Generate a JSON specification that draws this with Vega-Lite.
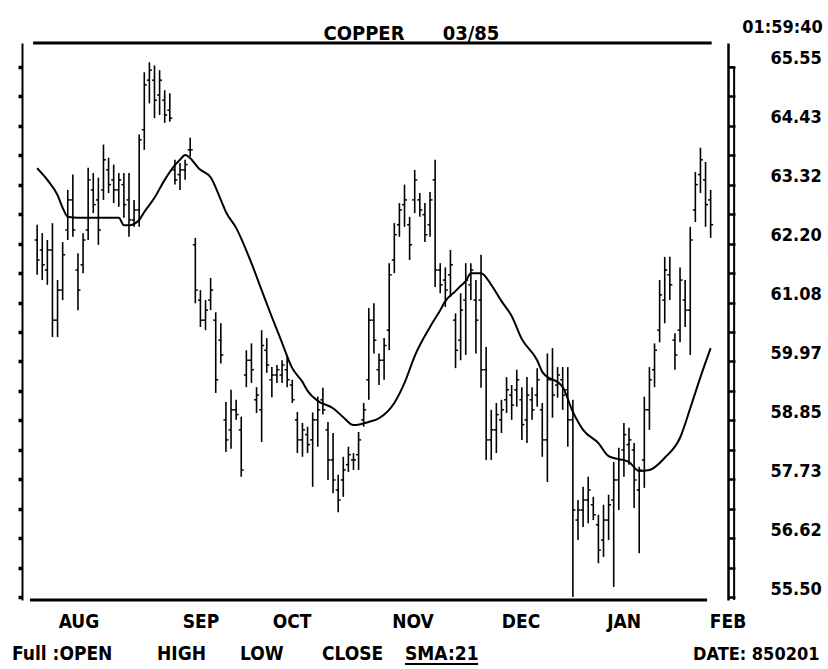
{
"$schema":"https://vega.github.io/schema/vega-lite/v6.json",
"width":698,"height":557,
"autosize":{"type":"none"},
"padding":{"left":30,"top":43,"right":100,"bottom":69},
"background":"white",
"config":{"view":{"stroke":null},"font":"DejaVu Sans Condensed, DejaVu Sans","axis":{"grid":false,"domainColor":"#000","tickColor":"#000","labelColor":"#000","title":null}},
"resolve":{"axis":{"y":"independent"}},
"datasets":{
"one":[{}],
"bars":[
{"d":1,"o":62.27,"h":62.56,"l":61.61,"c":61.89},
{"d":2,"o":62.08,"h":62.40,"l":61.51,"c":61.80},
{"d":3,"o":61.70,"h":62.27,"l":61.42,"c":62.08},
{"d":4,"o":62.08,"h":62.59,"l":60.43,"c":60.75},
{"d":5,"o":60.75,"h":61.51,"l":60.43,"c":61.32},
{"d":6,"o":61.32,"h":62.23,"l":61.13,"c":61.99},
{"d":7,"o":62.46,"h":63.22,"l":62.27,"c":63.03},
{"d":8,"o":63.03,"h":63.51,"l":62.33,"c":62.46},
{"d":9,"o":61.70,"h":62.02,"l":60.94,"c":61.32},
{"d":10,"o":61.80,"h":62.40,"l":61.64,"c":62.27},
{"d":11,"o":62.46,"h":63.64,"l":62.27,"c":63.41},
{"d":12,"o":63.22,"h":63.54,"l":62.78,"c":62.94},
{"d":13,"o":63.03,"h":63.45,"l":62.18,"c":62.46},
{"d":14,"o":63.22,"h":64.08,"l":63.03,"c":63.79},
{"d":15,"o":63.60,"h":63.83,"l":63.16,"c":63.32},
{"d":16,"o":63.41,"h":63.70,"l":62.97,"c":63.22},
{"d":17,"o":63.22,"h":63.54,"l":62.90,"c":63.41},
{"d":18,"o":63.32,"h":63.54,"l":62.69,"c":62.94},
{"d":19,"o":63.03,"h":63.54,"l":62.33,"c":62.65},
{"d":20,"o":62.65,"h":63.03,"l":62.52,"c":62.84},
{"d":21,"o":62.84,"h":64.27,"l":62.52,"c":64.17},
{"d":22,"o":64.36,"h":65.45,"l":63.98,"c":65.21},
{"d":23,"o":65.30,"h":65.64,"l":64.86,"c":65.49},
{"d":24,"o":65.30,"h":65.58,"l":64.58,"c":64.92},
{"d":25,"o":65.02,"h":65.49,"l":64.64,"c":65.30},
{"d":26,"o":64.92,"h":65.11,"l":64.49,"c":64.64},
{"d":27,"o":64.73,"h":65.05,"l":64.51,"c":64.58},
{"d":28,"o":63.60,"h":63.79,"l":63.32,"c":63.41},
{"d":29,"o":63.51,"h":63.73,"l":63.22,"c":63.60},
{"d":30,"o":63.60,"h":63.79,"l":63.41,"c":63.70},
{"d":31,"o":63.98,"h":64.21,"l":63.85,"c":63.98},
{"d":32,"o":62.18,"h":62.31,"l":61.07,"c":61.32},
{"d":33,"o":61.13,"h":61.32,"l":60.62,"c":60.75},
{"d":34,"o":60.75,"h":61.13,"l":60.56,"c":60.94},
{"d":35,"o":61.13,"h":61.55,"l":60.94,"c":61.32},
{"d":36,"o":60.75,"h":60.90,"l":59.37,"c":59.62},
{"d":37,"o":60.37,"h":60.69,"l":59.93,"c":60.09},
{"d":38,"o":58.86,"h":59.20,"l":58.25,"c":58.48},
{"d":39,"o":58.67,"h":59.43,"l":58.31,"c":59.05},
{"d":40,"o":59.05,"h":59.24,"l":58.86,"c":58.96},
{"d":41,"o":58.67,"h":58.92,"l":57.78,"c":57.91},
{"d":42,"o":59.71,"h":60.18,"l":59.48,"c":59.99},
{"d":43,"o":59.99,"h":60.31,"l":59.56,"c":59.81},
{"d":44,"o":59.24,"h":59.48,"l":58.99,"c":59.33},
{"d":45,"o":59.05,"h":60.56,"l":58.44,"c":60.27},
{"d":46,"o":60.18,"h":60.41,"l":59.75,"c":59.90},
{"d":47,"o":59.62,"h":59.86,"l":59.29,"c":59.71},
{"d":48,"o":59.71,"h":59.90,"l":59.56,"c":59.81},
{"d":49,"o":59.71,"h":59.99,"l":59.56,"c":59.90},
{"d":50,"o":59.81,"h":60.05,"l":59.48,"c":59.62},
{"d":51,"o":59.52,"h":59.62,"l":59.18,"c":59.24},
{"d":52,"o":58.86,"h":59.01,"l":58.23,"c":58.48},
{"d":53,"o":58.48,"h":58.80,"l":58.16,"c":58.67},
{"d":54,"o":58.58,"h":58.73,"l":58.23,"c":58.39},
{"d":55,"o":58.48,"h":59.00,"l":57.59,"c":58.86},
{"d":56,"o":58.86,"h":59.30,"l":58.35,"c":59.05},
{"d":57,"o":59.24,"h":59.47,"l":58.96,"c":59.05},
{"d":58,"o":58.67,"h":58.82,"l":57.72,"c":58.10},
{"d":59,"o":58.10,"h":58.61,"l":57.47,"c":57.72},
{"d":60,"o":57.53,"h":57.82,"l":57.11,"c":57.34},
{"d":61,"o":57.72,"h":58.16,"l":57.40,"c":57.91},
{"d":62,"o":58.01,"h":58.35,"l":57.87,"c":58.20},
{"d":63,"o":58.10,"h":58.23,"l":57.91,"c":58.10},
{"d":64,"o":58.20,"h":58.63,"l":57.91,"c":58.48},
{"d":65,"o":58.86,"h":59.18,"l":58.73,"c":59.05},
{"d":66,"o":59.62,"h":60.98,"l":59.24,"c":60.75},
{"d":67,"o":60.75,"h":61.07,"l":60.12,"c":60.37},
{"d":68,"o":59.81,"h":60.12,"l":59.52,"c":59.99},
{"d":69,"o":59.99,"h":60.41,"l":59.62,"c":60.27},
{"d":70,"o":60.56,"h":61.83,"l":60.18,"c":61.61},
{"d":71,"o":61.89,"h":62.59,"l":61.64,"c":62.37},
{"d":72,"o":62.56,"h":62.97,"l":62.33,"c":62.84},
{"d":73,"o":62.94,"h":63.32,"l":62.52,"c":63.03},
{"d":74,"o":62.56,"h":62.71,"l":61.89,"c":62.18},
{"d":75,"o":63.03,"h":63.60,"l":62.78,"c":63.41},
{"d":76,"o":63.03,"h":63.16,"l":62.71,"c":62.84},
{"d":77,"o":62.75,"h":62.97,"l":62.23,"c":62.37},
{"d":78,"o":62.56,"h":63.18,"l":62.33,"c":63.03},
{"d":79,"o":63.41,"h":63.79,"l":61.38,"c":61.70},
{"d":80,"o":61.70,"h":61.83,"l":61.26,"c":61.42},
{"d":81,"o":61.51,"h":61.75,"l":61.00,"c":61.32},
{"d":82,"o":61.61,"h":62.08,"l":61.19,"c":61.80},
{"d":83,"o":60.75,"h":60.88,"l":59.84,"c":60.18},
{"d":84,"o":60.37,"h":61.26,"l":59.99,"c":60.94},
{"d":85,"o":61.13,"h":61.83,"l":60.09,"c":61.51},
{"d":86,"o":61.42,"h":61.83,"l":61.13,"c":61.70},
{"d":87,"o":61.13,"h":61.51,"l":60.12,"c":60.75},
{"d":88,"o":61.13,"h":61.99,"l":59.47,"c":59.81},
{"d":89,"o":59.81,"h":60.24,"l":58.10,"c":58.48},
{"d":90,"o":58.48,"h":59.05,"l":58.10,"c":58.67},
{"d":91,"o":58.67,"h":59.18,"l":58.23,"c":58.96},
{"d":92,"o":58.86,"h":59.24,"l":58.61,"c":59.05},
{"d":93,"o":59.24,"h":59.67,"l":58.99,"c":59.43},
{"d":94,"o":59.33,"h":59.52,"l":58.86,"c":59.14},
{"d":95,"o":59.43,"h":59.81,"l":59.11,"c":59.62},
{"d":96,"o":59.24,"h":59.48,"l":58.48,"c":58.77},
{"d":97,"o":58.86,"h":59.67,"l":58.42,"c":59.33},
{"d":98,"o":59.24,"h":59.48,"l":58.86,"c":59.05},
{"d":99,"o":59.33,"h":59.84,"l":59.11,"c":59.62},
{"d":100,"o":59.05,"h":59.18,"l":58.16,"c":58.48},
{"d":101,"o":58.48,"h":60.12,"l":57.68,"c":59.62},
{"d":102,"o":59.62,"h":60.22,"l":58.90,"c":59.33},
{"d":103,"o":59.52,"h":59.86,"l":59.28,"c":59.71},
{"d":104,"o":59.62,"h":59.86,"l":59.05,"c":59.33},
{"d":105,"o":59.43,"h":59.86,"l":58.35,"c":58.86},
{"d":106,"o":58.86,"h":59.24,"l":55.50,"c":57.15},
{"d":107,"o":56.96,"h":57.34,"l":56.58,"c":57.15},
{"d":108,"o":57.15,"h":57.59,"l":56.83,"c":57.34},
{"d":109,"o":57.34,"h":57.78,"l":56.90,"c":57.53},
{"d":110,"o":57.25,"h":57.40,"l":56.96,"c":57.06},
{"d":111,"o":56.87,"h":57.06,"l":56.14,"c":56.39},
{"d":112,"o":56.58,"h":57.25,"l":56.26,"c":56.96},
{"d":113,"o":56.96,"h":57.44,"l":56.58,"c":57.25},
{"d":114,"o":57.34,"h":58.06,"l":55.69,"c":57.72},
{"d":115,"o":57.72,"h":58.33,"l":57.15,"c":58.10},
{"d":116,"o":58.29,"h":58.80,"l":57.78,"c":58.58},
{"d":117,"o":58.39,"h":58.71,"l":58.01,"c":58.48},
{"d":118,"o":58.29,"h":58.42,"l":57.19,"c":57.72},
{"d":119,"o":57.53,"h":57.97,"l":56.33,"c":57.91},
{"d":120,"o":58.10,"h":59.30,"l":57.57,"c":59.05},
{"d":121,"o":59.05,"h":59.86,"l":58.67,"c":59.62},
{"d":122,"o":59.81,"h":60.31,"l":59.48,"c":60.18},
{"d":123,"o":60.56,"h":61.51,"l":60.33,"c":61.23},
{"d":124,"o":61.13,"h":61.95,"l":60.69,"c":61.70},
{"d":125,"o":61.61,"h":61.95,"l":61.13,"c":61.42},
{"d":126,"o":60.37,"h":60.50,"l":59.81,"c":60.09},
{"d":127,"o":60.56,"h":61.75,"l":60.33,"c":61.51},
{"d":128,"o":61.13,"h":61.51,"l":60.62,"c":60.94},
{"d":129,"o":60.94,"h":62.52,"l":60.09,"c":62.27},
{"d":130,"o":62.84,"h":63.56,"l":62.61,"c":63.32},
{"d":131,"o":63.51,"h":64.02,"l":63.16,"c":63.79},
{"d":132,"o":63.41,"h":63.75,"l":62.52,"c":62.94},
{"d":133,"o":63.03,"h":63.22,"l":62.31,"c":62.56}
],
"sma":[
{"d":1,"v":63.63},{"d":3,"v":63.41},{"d":5,"v":63.12},{"d":6,"v":62.88},{"d":7,"v":62.71},{"d":9,"v":62.69},{"d":13,"v":62.69},{"d":17,"v":62.69},{"d":18,"v":62.55},{"d":19,"v":62.55},{"d":21,"v":62.65},{"d":22,"v":62.80},{"d":24,"v":63.07},{"d":26,"v":63.41},{"d":28,"v":63.69},{"d":29,"v":63.79},{"d":30,"v":63.88},{"d":33,"v":63.60},{"d":35,"v":63.46},{"d":37,"v":63.03},{"d":38,"v":62.80},{"d":40,"v":62.50},{"d":43,"v":61.83},{"d":45,"v":61.32},{"d":47,"v":60.81},{"d":49,"v":60.32},{"d":51,"v":59.84},{"d":53,"v":59.58},{"d":54,"v":59.41},{"d":56,"v":59.22},{"d":59,"v":59.08},{"d":61,"v":58.91},{"d":63,"v":58.76},{"d":66,"v":58.82},{"d":68,"v":58.89},{"d":71,"v":59.18},{"d":73,"v":59.56},{"d":75,"v":60.07},{"d":78,"v":60.62},{"d":80,"v":60.94},{"d":81,"v":61.11},{"d":83,"v":61.30},{"d":84,"v":61.40},{"d":85,"v":61.49},{"d":86,"v":61.64},{"d":88,"v":61.64},{"d":90,"v":61.42},{"d":92,"v":61.11},{"d":94,"v":60.83},{"d":96,"v":60.39},{"d":99,"v":59.99},{"d":100,"v":59.77},{"d":104,"v":59.48},{"d":106,"v":59.01},{"d":108,"v":58.67},{"d":111,"v":58.42},{"d":113,"v":58.17},{"d":117,"v":58.06},{"d":119,"v":57.89},{"d":121,"v":57.91},{"d":124,"v":58.14},{"d":127,"v":58.52},{"d":129,"v":59.08},{"d":131,"v":59.67},{"d":133,"v":60.22}
],
"months":[
{"m":"AUG","d":9.2},{"m":"SEP","d":33.12},{"m":"OCT","d":50.95},{"m":"NOV","d":74.67},{"m":"DEC","d":95.84},{"m":"JAN","d":116.03},{"m":"FEB","d":136.41}
]
},
"layer":[
{"data":{"name":"bars"},"mark":{"type":"rule","color":"#000","strokeWidth":1.6},
 "encoding":{
  "x":{"field":"d","type":"quantitative","scale":{"domain":[-0.4,136.4],"nice":false,"zero":false},
       "axis":{"values":[4.5,27.43,48.6,69.77,90.94,110.14,132.29],"labels":false,"domain":false,"ticks":true,"tickSize":6,"tickWidth":2,"title":null}},
  "y":{"field":"l","type":"quantitative","scale":{"domain":[55.444,66.005],"nice":false,"zero":false},
       "axis":{"orient":"right","values":[55.5,56.0583,56.6167,57.175,57.7333,58.2917,58.85,59.4083,59.9667,60.525,61.0833,61.6417,62.2,62.7583,63.3167,63.875,64.4333,64.9917,65.55],
        "labelExpr":"indexof(['55.50','56.62','57.73','58.85','59.97','61.08','62.20','63.32','64.43','65.55'], format(datum.value,'.2f')) >= 0 ? format(datum.value,'.2f') : ''",
        "domainWidth":2.5,"tickSize":7,"tickWidth":2.5,"labelPadding":35,"labelOffset":-8,"labelFontSize":18,"labelFontWeight":"bold","labelAlign":"left","labelBaseline":"middle","labelBound":false,"title":null}},
  "y2":{"field":"h"}}},
{"data":{"name":"bars"},"mark":{"type":"rule","color":"#000","strokeWidth":1.5,"xOffset":-2.5},
 "encoding":{
  "x":{"field":"d","type":"quantitative","scale":{"domain":[-0.4,136.4],"nice":false,"zero":false},"axis":null},
  "x2":{"field":"d"},
  "y":{"field":"o","type":"quantitative","scale":{"domain":[55.444,66.005],"nice":false,"zero":false},"axis":null}}},
{"data":{"name":"bars"},"mark":{"type":"rule","color":"#000","strokeWidth":1.5,"x2Offset":2.5},
 "encoding":{
  "x":{"field":"d","type":"quantitative","scale":{"domain":[-0.4,136.4],"nice":false,"zero":false},"axis":null},
  "x2":{"field":"d"},
  "y":{"field":"c","type":"quantitative","scale":{"domain":[55.444,66.005],"nice":false,"zero":false},"axis":null}}},
{"data":{"name":"sma"},"mark":{"type":"line","color":"#000","strokeWidth":2,"interpolate":"monotone"},
 "encoding":{
  "x":{"field":"d","type":"quantitative","scale":{"domain":[-0.4,136.4],"nice":false,"zero":false},"axis":null},
  "y":{"field":"v","type":"quantitative","scale":{"domain":[55.444,66.005],"nice":false,"zero":false},
       "axis":{"orient":"left","offset":8,"values":[55.5,56.0583,56.6167,57.175,57.7333,58.2917,58.85,59.4083,59.9667,60.525,61.0833,61.6417,62.2,62.7583,63.3167,63.875,64.4333,64.9917,65.55],"labels":false,"domainWidth":2,"tickSize":4,"tickWidth":3.5,"title":null}}}},
{"data":{"name":"months"},"mark":{"type":"text","color":"#000","fontSize":19,"fontWeight":"bold","align":"center","baseline":"alphabetic"},
 "encoding":{
  "x":{"field":"d","type":"quantitative","scale":{"domain":[-0.4,136.4],"nice":false,"zero":false},"axis":null},
  "y":{"datum":54.913,"type":"quantitative","scale":{"domain":[55.444,66.005],"nice":false,"zero":false},"axis":null},
  "text":{"field":"m"}}},
{"data":{"name":"one"},"mark":{"type":"rule","color":"#000","strokeWidth":3},
 "encoding":{"x":{"datum":0.2,"type":"quantitative","scale":{"domain":[-0.4,136.4],"nice":false,"zero":false},"axis":null},"x2":{"datum":133.2},
  "y":{"datum":66.005,"type":"quantitative","scale":{"domain":[55.444,66.005],"nice":false,"zero":false},"axis":null}}},
{"data":{"name":"one"},"mark":{"type":"rule","color":"#000","strokeWidth":3},
 "encoding":{"x":{"datum":-0.4,"type":"quantitative","scale":{"domain":[-0.4,136.4],"nice":false,"zero":false},"axis":null},"x2":{"datum":132.3},
  "y":{"datum":55.444,"type":"quantitative","scale":{"domain":[55.444,66.005],"nice":false,"zero":false},"axis":null}}},
{"data":{"name":"one"},"mark":{"type":"rule","color":"#000","strokeWidth":2},
 "encoding":{"x":{"datum":137.6,"type":"quantitative","scale":{"domain":[-0.4,136.4],"nice":false,"zero":false},"axis":null},
  "y":{"datum":55.444,"type":"quantitative","scale":{"domain":[55.444,66.005],"nice":false,"zero":false},"axis":null},"y2":{"datum":65.55}}},
{"data":{"name":"one"},"mark":{"type":"rule","color":"#000","strokeWidth":2},
 "encoding":{"x":{"datum":136.4,"type":"quantitative","scale":{"domain":[-0.4,136.4],"nice":false,"zero":false},"axis":null},"x2":{"datum":137.6},
  "y":{"datum":65.55,"type":"quantitative","scale":{"domain":[55.444,66.005],"nice":false,"zero":false},"axis":null}}},
{"data":{"name":"one"},"mark":{"type":"rule","color":"#000","strokeWidth":2},
 "encoding":{"x":{"datum":73.1,"type":"quantitative","scale":{"domain":[-0.4,136.4],"nice":false,"zero":false},"axis":null},"x2":{"datum":87.41},
  "y":{"datum":54.23,"type":"quantitative","scale":{"domain":[55.444,66.005],"nice":false,"zero":false},"axis":null}}},
{"data":{"name":"one"},"mark":{"type":"text","color":"#000","fontSize":20,"fontWeight":"bold","align":"center","baseline":"alphabetic"},
 "encoding":{"x":{"datum":65.06,"type":"quantitative","scale":{"domain":[-0.4,136.4],"nice":false,"zero":false},"axis":null},
  "y":{"datum":66.062,"type":"quantitative","scale":{"domain":[55.444,66.005],"nice":false,"zero":false},"axis":null},"text":{"value":"COPPER"}}},
{"data":{"name":"one"},"mark":{"type":"text","color":"#000","fontSize":20,"fontWeight":"bold","align":"center","baseline":"alphabetic"},
 "encoding":{"x":{"datum":86.04,"type":"quantitative","scale":{"domain":[-0.4,136.4],"nice":false,"zero":false},"axis":null},
  "y":{"datum":66.062,"type":"quantitative","scale":{"domain":[55.444,66.005],"nice":false,"zero":false},"axis":null},"text":{"value":"03/85"}}},
{"data":{"name":"one"},"mark":{"type":"text","color":"#000","fontSize":18,"fontWeight":"bold","align":"center","baseline":"alphabetic"},
 "encoding":{"x":{"datum":147.1,"type":"quantitative","scale":{"domain":[-0.4,136.4],"nice":false,"zero":false},"axis":null},
  "y":{"datum":66.195,"type":"quantitative","scale":{"domain":[55.444,66.005],"nice":false,"zero":false},"axis":null},"text":{"value":"01:59:40"}}},
{"data":{"name":"one"},"mark":{"type":"text","color":"#000","fontSize":19,"fontWeight":"bold","align":"left","baseline":"alphabetic"},
 "encoding":{"x":{"datum":-3.93,"type":"quantitative","scale":{"domain":[-0.4,136.4],"nice":false,"zero":false},"axis":null},
  "y":{"datum":54.306,"type":"quantitative","scale":{"domain":[55.444,66.005],"nice":false,"zero":false},"axis":null},"text":{"value":"Full :OPEN"}}},
{"data":{"name":"one"},"mark":{"type":"text","color":"#000","fontSize":19,"fontWeight":"bold","align":"left","baseline":"alphabetic"},
 "encoding":{"x":{"datum":24.49,"type":"quantitative","scale":{"domain":[-0.4,136.4],"nice":false,"zero":false},"axis":null},
  "y":{"datum":54.306,"type":"quantitative","scale":{"domain":[55.444,66.005],"nice":false,"zero":false},"axis":null},"text":{"value":"HIGH"}}},
{"data":{"name":"one"},"mark":{"type":"text","color":"#000","fontSize":19,"fontWeight":"bold","align":"left","baseline":"alphabetic"},
 "encoding":{"x":{"datum":40.76,"type":"quantitative","scale":{"domain":[-0.4,136.4],"nice":false,"zero":false},"axis":null},
  "y":{"datum":54.306,"type":"quantitative","scale":{"domain":[55.444,66.005],"nice":false,"zero":false},"axis":null},"text":{"value":"LOW"}}},
{"data":{"name":"one"},"mark":{"type":"text","color":"#000","fontSize":19,"fontWeight":"bold","align":"left","baseline":"alphabetic"},
 "encoding":{"x":{"datum":56.83,"type":"quantitative","scale":{"domain":[-0.4,136.4],"nice":false,"zero":false},"axis":null},
  "y":{"datum":54.306,"type":"quantitative","scale":{"domain":[55.444,66.005],"nice":false,"zero":false},"axis":null},"text":{"value":"CLOSE"}}},
{"data":{"name":"one"},"mark":{"type":"text","color":"#000","fontSize":19,"fontWeight":"bold","align":"left","baseline":"alphabetic"},
 "encoding":{"x":{"datum":73.1,"type":"quantitative","scale":{"domain":[-0.4,136.4],"nice":false,"zero":false},"axis":null},
  "y":{"datum":54.306,"type":"quantitative","scale":{"domain":[55.444,66.005],"nice":false,"zero":false},"axis":null},"text":{"value":"SMA:21"}}},
{"data":{"name":"one"},"mark":{"type":"text","color":"#000","fontSize":18,"fontWeight":"bold","align":"left","baseline":"alphabetic"},
 "encoding":{"x":{"datum":129.55,"type":"quantitative","scale":{"domain":[-0.4,136.4],"nice":false,"zero":false},"axis":null},
  "y":{"datum":54.306,"type":"quantitative","scale":{"domain":[55.444,66.005],"nice":false,"zero":false},"axis":null},"text":{"value":"DATE: 850201"}}}
]
}
